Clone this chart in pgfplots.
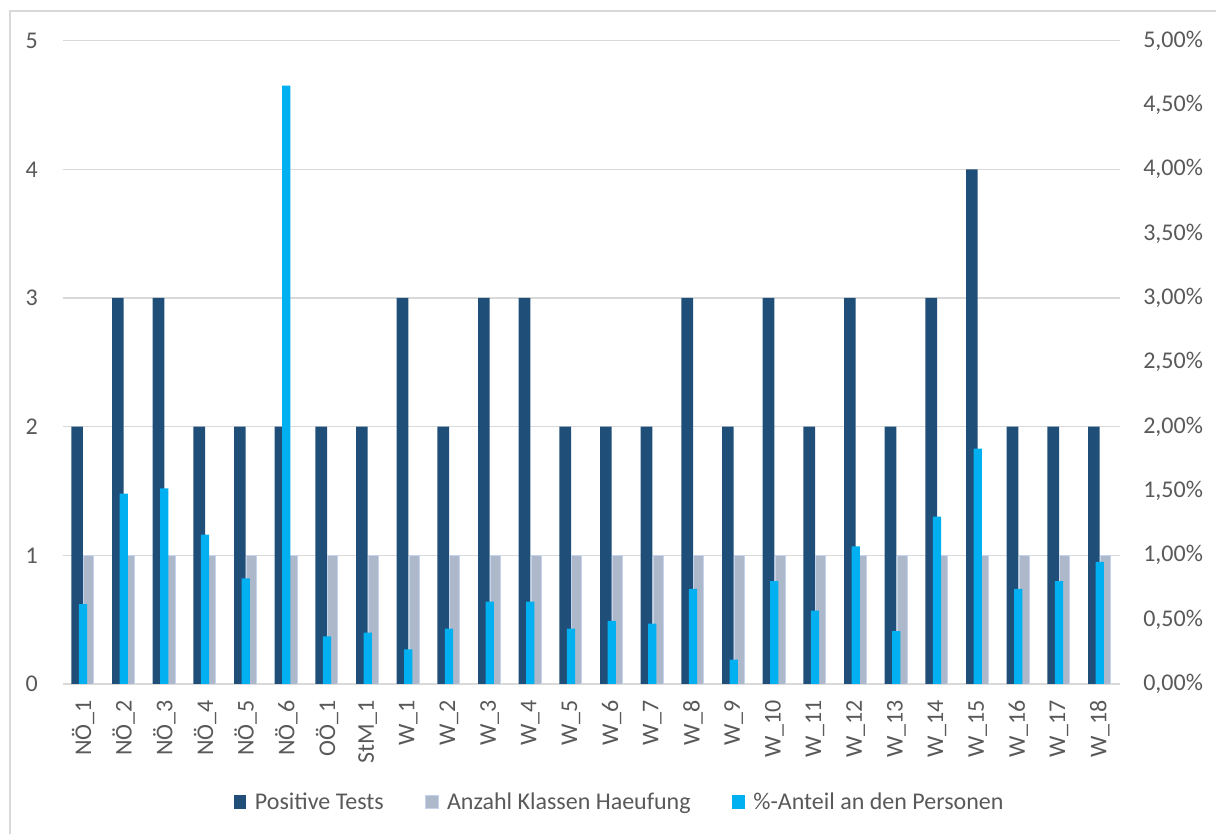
\documentclass[border=0pt]{standalone}
\usepackage{pgfplots}
\usepackage{pgfplotstable}
\pgfplotsset{compat=1.18}
\usepackage{fontspec}
\setmainfont{Carlito}
\definecolor{darkb}{HTML}{1F4E79}
\definecolor{greyb}{HTML}{ADB9CA}
\definecolor{greyedge}{HTML}{C5D3EC}
\definecolor{lightb}{HTML}{00B0F0}
\definecolor{txt}{HTML}{595959}
\definecolor{gridc}{HTML}{D9D9D9}
\pgfplotsset{sq legend/.style={legend image code/.code={\fill[##1] (0pt,-5pt) rectangle (9.5pt,5pt); \path (14pt,0pt);}}}
\pgfplotstableread{
x pos kl pct
0 2 1 0.62
1 3 1 1.48
2 3 1 1.52
3 2 1 1.16
4 2 1 0.82
5 2 1 4.65
6 2 1 0.37
7 2 1 0.40
8 3 1 0.27
9 2 1 0.43
10 3 1 0.64
11 3 1 0.64
12 2 1 0.43
13 2 1 0.49
14 2 1 0.47
15 3 1 0.74
16 2 1 0.19
17 3 1 0.80
18 2 1 0.57
19 3 1 1.07
20 2 1 0.41
21 3 1 1.30
22 4 1 1.83
23 2 1 0.74
24 2 1 0.80
25 2 1 0.95
}\data
\begin{document}
\begin{tikzpicture}[font=\fontsize{18}{21}\selectfont]
\useasboundingbox (0,0) rectangle (912pt,625.5pt);
\draw[gridc, line width=1.1pt] (7.5pt,-5pt) -- (7.5pt,617.25pt) -- (920pt,617.25pt);
\begin{axis}[
  at={(47pt,112.5pt)}, anchor=south west, scale only axis,
  width=793pt, height=482.5pt,
  xmin=-0.5, xmax=25.5, ymin=0, ymax=5,
  xtick={0,...,25},
  xticklabels={NÖ\_1,NÖ\_2,NÖ\_3,NÖ\_4,NÖ\_5,NÖ\_6,OÖ\_1,StM\_1,W\_1,W\_2,W\_3,W\_4,W\_5,W\_6,W\_7,W\_8,W\_9,W\_10,W\_11,W\_12,W\_13,W\_14,W\_15,W\_16,W\_17,W\_18},
  ytick={0,1,2,3,4,5}, yticklabels={0,1,2,3,4,5},
  ymajorgrids, grid style={gridc, line width=1.1pt},
  axis line style={draw=none}, major tick length=0pt,
  tick label style={text=txt, font=\fontsize{18}{21}\selectfont},
  yticklabel style={inner xsep=18.5pt},
  xticklabel style={rotate=90, anchor=east, inner xsep=12pt},
]
\addplot[ybar, bar width=8.7pt, bar shift=-4.35pt, fill=darkb, draw=none] table[x=x,y=pos]{\data};
\addplot[ybar, bar width=7.6pt, bar shift=4.35pt, fill=greyb, draw=greyedge, line width=0.7pt] table[x=x,y=kl]{\data};
\end{axis}
\begin{axis}[
  at={(47pt,112.5pt)}, anchor=south west, scale only axis,
  width=793pt, height=482.5pt,
  xmin=-0.5, xmax=25.5, ymin=0, ymax=5,
  xtick=\empty,
  ytick={0,0.5,1,1.5,2,2.5,3,3.5,4,4.5,5},
  yticklabels={{0,00\%},{0,50\%},{1,00\%},{1,50\%},{2,00\%},{2,50\%},{3,00\%},{3,50\%},{4,00\%},{4,50\%},{5,00\%}},
  yticklabel pos=right,
  axis line style={draw=none}, major tick length=0pt,
  tick label style={text=txt, font=\fontsize{18}{21}\selectfont},
  yticklabel style={inner xsep=17.25pt},
  sq legend,
  legend style={at={(0.527,-0.1834)}, anchor=center, draw=none, fill=none,
    legend columns=3, text=txt, font=\fontsize{18}{21}\selectfont,
    /tikz/every even column/.append style={column sep=29pt}},
]
\addlegendimage{fill=darkb, draw=none}
\addlegendentry{Positive Tests}
\addlegendimage{fill=greyb, draw=greyedge}
\addlegendentry{Anzahl Klassen Haeufung}
\addplot[ybar, bar width=6.2pt, bar shift=0pt, fill=lightb, draw=none, sq legend] table[x=x,y=pct]{\data};
\addlegendentry{\%-Anteil an den Personen}
\end{axis}
\end{tikzpicture}
\end{document}
